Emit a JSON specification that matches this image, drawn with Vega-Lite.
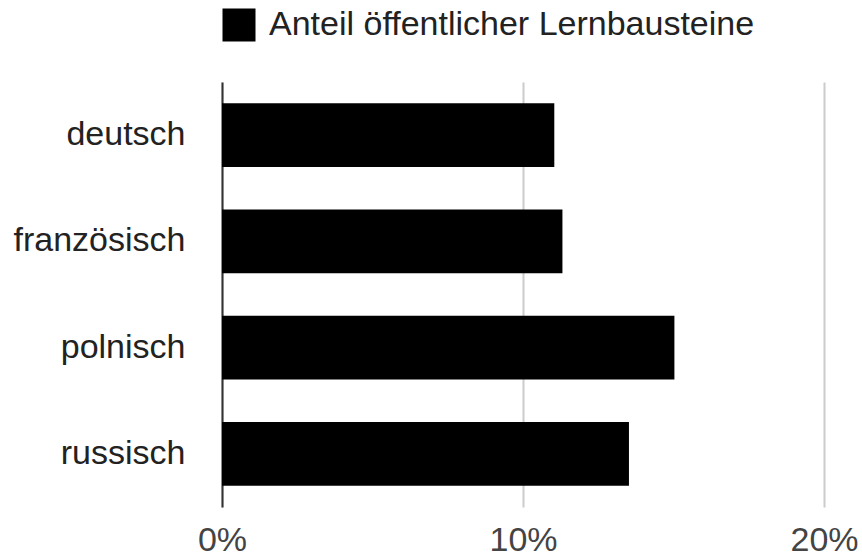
{
  "$schema": "https://vega.github.io/schema/vega-lite/v6.json",
  "autosize": {"type": "none"},
  "width": 602,
  "height": 425,
  "padding": {"left": 222, "top": 82, "right": 38, "bottom": 52},
  "background": "white",
  "config": {
    "font": "Liberation Sans",
    "view": {"stroke": null}
  },
  "data": {
    "values": [
      {"sprache": "deutsch", "anteil": 0.1104, "serie": "Anteil öffentlicher Lernbausteine"},
      {"sprache": "französisch", "anteil": 0.1131, "serie": "Anteil öffentlicher Lernbausteine"},
      {"sprache": "polnisch", "anteil": 0.1503, "serie": "Anteil öffentlicher Lernbausteine"},
      {"sprache": "russisch", "anteil": 0.1352, "serie": "Anteil öffentlicher Lernbausteine"}
    ]
  },
  "mark": {"type": "bar"},
  "encoding": {
    "y": {
      "field": "sprache",
      "type": "nominal",
      "sort": null,
      "scale": {"paddingInner": 0.4, "paddingOuter": 0.2},
      "axis": {
        "title": null,
        "ticks": false,
        "tickSize": 0,
        "labelPadding": 37,
        "labelFontSize": 34,
        "labelColor": "#222222",
        "domainColor": "#333333",
        "domainWidth": 2,
        "grid": false
      }
    },
    "x": {
      "field": "anteil",
      "type": "quantitative",
      "scale": {"domain": [0, 0.2], "nice": false},
      "axis": {
        "title": null,
        "values": [0, 0.1, 0.2],
        "format": ".0%",
        "domain": false,
        "ticks": false,
        "tickSize": 0,
        "labelFlush": false,
        "labelPadding": 16,
        "labelFontSize": 34,
        "labelColor": "#444444",
        "grid": true,
        "gridColor": "#cccccc",
        "gridWidth": 2
      }
    },
    "color": {
      "field": "serie",
      "type": "nominal",
      "scale": {"range": ["#000000"]},
      "legend": {
        "title": null,
        "orient": "none",
        "legendX": 0,
        "legendY": -74,
        "symbolType": "square",
        "symbolSize": 1089,
        "symbolStrokeWidth": 0,
        "symbolOpacity": 1,
        "labelFontSize": 34,
        "labelColor": "#222222",
        "labelOffset": 13,
        "labelLimit": 700
      }
    }
  }
}
